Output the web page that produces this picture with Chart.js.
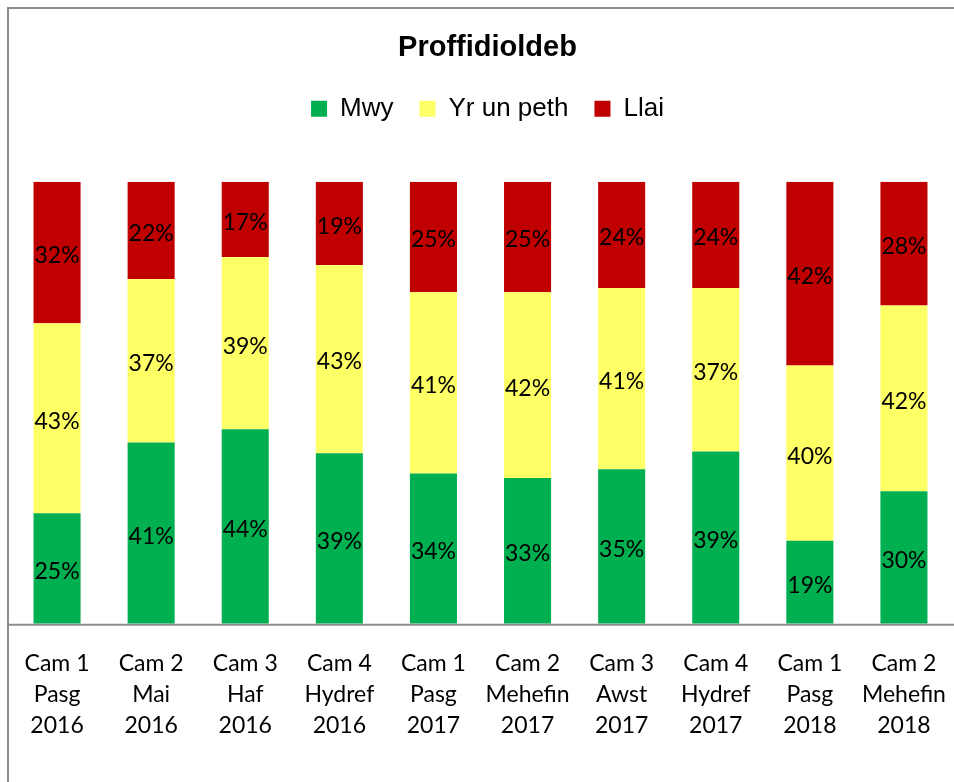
<!DOCTYPE html>
<html>
<head>
<meta charset="utf-8">
<title>Proffidioldeb</title>
<script src="https://cdn.jsdelivr.net/npm/chart.js@4.4.1/dist/chart.umd.min.js"></script>
<style>
    body { margin: 0; background: #ffffff; }
    #contenedor { position: relative; width: 954px; height: 782px; }
</style>
</head>
<body>
<div id="contenedor">
    <canvas id="graficoProffidioldeb" width="954" height="782"></canvas>
</div>
<script>
// Datos del grafico
var categorias = [
    ['Cam 1', 'Pasg', '2016'],
    ['Cam 2', 'Mai', '2016'],
    ['Cam 3', 'Haf', '2016'],
    ['Cam 4', 'Hydref', '2016'],
    ['Cam 1', 'Pasg', '2017'],
    ['Cam 2', 'Mehefin', '2017'],
    ['Cam 3', 'Awst', '2017'],
    ['Cam 4', 'Hydref', '2017'],
    ['Cam 1', 'Pasg', '2018'],
    ['Cam 2', 'Mehefin', '2018']
];
var mwy = [25, 41, 44, 39, 34, 33, 35, 39, 19, 30];
var yrUnPeth = [43, 37, 39, 43, 41, 42, 41, 37, 40, 42];
var llai = [32, 22, 17, 19, 25, 25, 24, 24, 42, 28];

// 100% apilado: cada serie como parte del total de su columna
function comoPorcentaje(serie) {
    var res = [];
    for (var i = 0; i < serie.length; i++) {
        var total = mwy[i] + yrUnPeth[i] + llai[i];
        res.push(serie[i] / total * 100);
    }
    return res;
}

var fuenteTexto = 'Lato, "Open Sans", sans-serif';

// Etiquetas de porcentaje en el centro de cada segmento
var etiquetasPlugin = {
    id: 'etiquetas',
    afterDatasetsDraw: function(chart) {
        var ctx = chart.ctx;
        ctx.save();
        ctx.font = '23px ' + fuenteTexto;
        ctx.fillStyle = '#000000';
        ctx.textAlign = 'center';
        ctx.textBaseline = 'middle';
        chart.data.datasets.forEach(function(ds, d) {
            var meta = chart.getDatasetMeta(d);
            meta.data.forEach(function(barra, i) {
                var y = (barra.y + barra.base) / 2 + 3;
                ctx.fillText(ds.valores[i] + '%', barra.x, y);
            });
        });
        ctx.restore();
    }
};

// Marco del grafico y linea del eje
var marcoPlugin = {
    id: 'marco',
    afterLayout: function(chart) {
        // titulo y leyenda un poco a la derecha, como en el original
        chart.titleBlock.left += 7;
        chart.titleBlock.right += 7;
        chart.legend.left += 7;
        chart.legend.right += 7;
    },
    afterDraw: function(chart) {
        var ctx = chart.ctx;
        var area = chart.chartArea;
        ctx.save();
        ctx.strokeStyle = '#8c8c8c';
        ctx.lineWidth = 2;
        ctx.beginPath();
        ctx.moveTo(8, 782);
        ctx.lineTo(8, 8);
        ctx.lineTo(954, 8);
        ctx.stroke();
        ctx.beginPath();
        ctx.moveTo(8, area.bottom + 1);
        ctx.lineTo(954, area.bottom + 1);
        ctx.stroke();
        ctx.restore();
    }
};

// Espacio extra bajo la leyenda
var espacioLeyenda = {
    id: 'espacioLeyenda',
    beforeInit: function(chart) {
        var fitOriginal = chart.legend.fit;
        chart.legend.fit = function() {
            fitOriginal.bind(chart.legend)();
            this.height += 50;
        };
    }
};

var ctx = document.getElementById('graficoProffidioldeb').getContext('2d');

new Chart(ctx, {
    type: 'bar',
    data: {
        labels: categorias,
        datasets: [
            { label: 'Mwy', data: comoPorcentaje(mwy), valores: mwy, backgroundColor: '#00b050' },
            { label: 'Yr un peth', data: comoPorcentaje(yrUnPeth), valores: yrUnPeth, backgroundColor: '#ffff66' },
            { label: 'Llai', data: comoPorcentaje(llai), valores: llai, backgroundColor: '#c00000' }
        ]
    },
    options: {
        responsive: false,
        animation: false,
        layout: {
            padding: { left: 10, right: 3, top: 0, bottom: 17 }
        },
        datasets: {
            bar: { barPercentage: 0.5, categoryPercentage: 1.0 }
        },
        plugins: {
            title: {
                display: true,
                text: 'Proffidioldeb',
                color: '#000000',
                font: { family: '"Liberation Sans", Arial, sans-serif', size: 29, weight: 'bold' },
                padding: { top: 31, bottom: 4 }
            },
            legend: {
                display: true,
                position: 'top',
                labels: {
                    color: '#000000',
                    boxWidth: 16,
                    boxHeight: 16,
                    padding: 26,
                    font: { family: '"Liberation Sans", Arial, sans-serif', size: 26 }
                }
            },
            tooltip: { enabled: false }
        },
        scales: {
            x: {
                stacked: true,
                grid: { display: false, drawTicks: false },
                border: { display: false },
                afterFit: function(scale) {
                    // sin margen extra por las etiquetas de los extremos
                    scale.paddingLeft = 0;
                    scale.paddingRight = 0;
                },
                ticks: {
                    color: '#000000',
                    padding: 24,
                    maxRotation: 0,
                    autoSkip: false,
                    font: { family: fuenteTexto, size: 23, lineHeight: 1.35 }
                }
            },
            y: {
                stacked: true,
                display: false,
                min: 0,
                max: 100
            }
        }
    },
    plugins: [etiquetasPlugin, marcoPlugin, espacioLeyenda]
});
</script>
</body>
</html>
